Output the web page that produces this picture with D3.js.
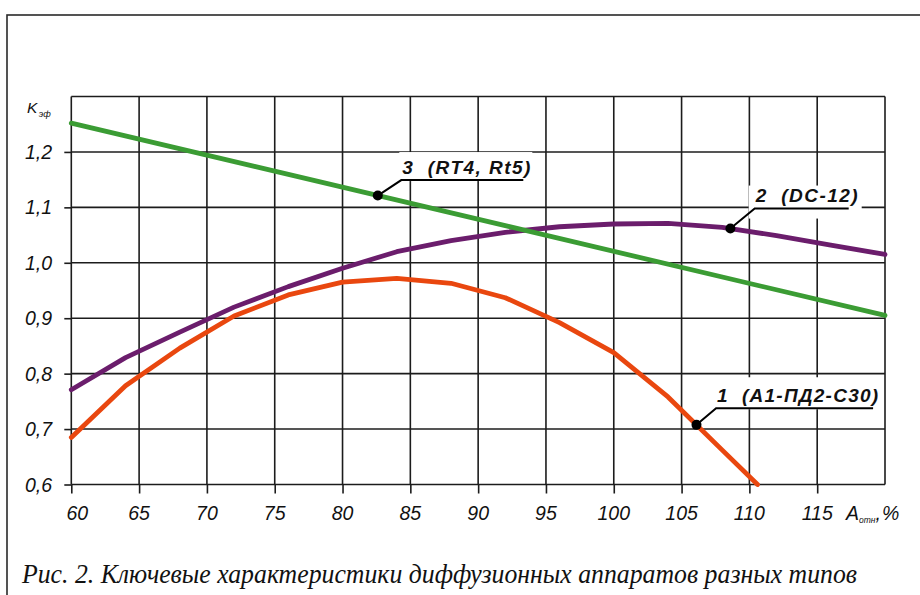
<!DOCTYPE html>
<html>
<head>
<meta charset="utf-8">
<script src="https://cdn.jsdelivr.net/npm/d3@7"></script>
<style>
  html, body { margin: 0; padding: 0; background: #fff; }
  svg { display: block; }
</style>
</head>
<body>
<svg id="chart" width="920" height="595"></svg>
<script>
// Relative load (%) on the horizontal axis, efficiency coefficient on the vertical axis
const xTicks = [60, 65, 70, 75, 80, 85, 90, 95, 100, 105, 110, 115];
const yTicks = [0.6, 0.7, 0.8, 0.9, 1.0, 1.1, 1.2];
const yTickLabels = ["0,6", "0,7", "0,8", "0,9", "1,0", "1,1", "1,2"];

// Curve 1 — А1-ПД2-С30
const series1X = [60, 64, 68, 72, 76, 80, 84, 88, 92, 96, 100, 104, 108, 110.6];
const series1Y = [0.685, 0.778, 0.846, 0.904, 0.942, 0.965, 0.972, 0.963, 0.937, 0.892, 0.838, 0.758, 0.662, 0.600];

// Curve 2 — DC-12
const series2X = [60, 64, 68, 72, 76, 80, 84, 88, 92, 96, 100, 104, 108, 112, 116, 120];
const series2Y = [0.771, 0.829, 0.875, 0.920, 0.957, 0.990, 1.020, 1.040, 1.055, 1.065, 1.070, 1.071, 1.064, 1.049, 1.032, 1.015];

// Curve 3 — RT4, Rt5
const series3X = [60, 120];
const series3Y = [1.252, 0.905];

const seriesNames = ["1  (А1-ПД2-С30)", "2  (DC-12)", "3  (RT4, Rt5)"];
// Where along each curve its callout dot sits
const calloutAt = [106.1, 108.6, 82.6];

const caption = "Рис. 2. Ключевые характеристики диффузионных аппаратов разных типов";

// ---- styling / layout ----
const colors = ["#e9470f", "#6b1d6c", "#3b9c34"];
const gridColor = "#1c1c1c";
const plot = { left: 71.3, right: 885, top: 96.5, bottom: 484.5 };
const callout = [
  { dx: 19.6, dy: -16.6, len: 157, textLen: 161, box: [-4, -31, 166, 1] },
  { dx: 24.3, dy: -20.0, len: 94,  textLen: 102, box: [-6, -23, 113, 10] },
  { dx: 23.5, dy: -15.5, len: 122, textLen: 128, box: [-2, -28, 133, 1] }
];

const svg = d3.select("#chart");

const x = d3.scaleLinear().domain([60, 120]).range([plot.left, plot.right]);
const y = d3.scaleLinear().domain([0.6, 1.3]).range([plot.bottom, plot.top]);

// outer frame
svg.append("rect")
  .attr("x", 7).attr("y", 15)
  .attr("width", 940).attr("height", 620)
  .attr("fill", "none").attr("stroke", "#2a2a2a").attr("stroke-width", 1.6);

// grid
const grid = svg.append("g").attr("stroke", gridColor).attr("stroke-width", 1.6).attr("fill", "none");
const xGrid = xTicks.concat([120]);
grid.selectAll("line.v").data(xGrid).join("line")
  .attr("class", "v")
  .attr("x1", d => x(d)).attr("x2", d => x(d))
  .attr("y1", plot.top).attr("y2", plot.bottom);
const yGrid = yTicks.concat([1.3]);
grid.selectAll("line.h").data(yGrid).join("line")
  .attr("class", "h")
  .attr("x1", plot.left).attr("x2", plot.right)
  .attr("y1", d => y(d)).attr("y2", d => y(d));

// axes: ticks sticking out of the frame
const xAxis = d3.axisBottom(x).tickValues(xTicks).tickSize(9).tickFormat("");
const gx = svg.append("g").attr("transform", `translate(0,${plot.bottom})`).call(xAxis);
gx.select(".domain").remove();
gx.selectAll(".tick line").attr("stroke", gridColor).attr("stroke-width", 1.6);

const yAxis = d3.axisLeft(y).tickValues(yTicks).tickSize(7).tickFormat("");
const gy = svg.append("g").attr("transform", `translate(${plot.left},0)`).call(yAxis);
gy.select(".domain").remove();
gy.selectAll(".tick line").attr("stroke", gridColor).attr("stroke-width", 1.6);

// tick labels
const tickFont = "'Liberation Sans', Arial, sans-serif";
svg.append("g").selectAll("text").data(xTicks).join("text")
  .attr("x", (d, i) => x(d) + (i === 0 ? 6 : 0))
  .attr("y", 520)
  .attr("text-anchor", "middle")
  .attr("font-family", tickFont).attr("font-style", "italic")
  .attr("font-size", 19.5).attr("fill", "#111")
  .text(d => d);

svg.append("g").selectAll("text").data(yTicks).join("text")
  .attr("x", 52)
  .attr("y", d => y(d) + 7)
  .attr("text-anchor", "end")
  .attr("font-family", tickFont).attr("font-style", "italic")
  .attr("font-size", 19.5).attr("fill", "#111")
  .text((d, i) => yTickLabels[i]);

// axis titles
const yTitle = svg.append("text")
  .attr("x", 27).attr("y", 113)
  .attr("font-family", tickFont).attr("font-style", "italic")
  .attr("font-size", 15.5).attr("fill", "#111");
yTitle.append("tspan").text("K");
yTitle.append("tspan").attr("font-size", 9).attr("dy", 4).attr("dx", 1.5).text("эф");

const xTitle = svg.append("text")
  .attr("x", 846).attr("y", 520)
  .attr("font-family", tickFont).attr("font-style", "italic")
  .attr("font-size", 19.5).attr("fill", "#111");
xTitle.append("tspan").text("A");
xTitle.append("tspan").attr("font-size", 8.5).attr("dy", 3).text("отн");
xTitle.append("tspan").attr("dy", -3).text(",");
xTitle.append("tspan").attr("dx", 1).text("%");

// series
const allX = [series1X, series2X, series3X];
const allY = [series1Y, series2Y, series3Y];
const line = d3.line().x(d => x(d[0])).y(d => y(d[1]));

// callout geometry derived from the curves
const marks = allX.map((xs, i) => {
  const f = d3.scaleLinear().domain(xs).range(allY[i]);
  const px = x(calloutAt[i]), py = y(f(calloutAt[i]));
  const c = callout[i];
  return { px, py, ux: px + c.dx, uy: py + c.dy, c, name: seriesNames[i] };
});

// white plates under the callout text
svg.append("g").selectAll("rect").data(marks).join("rect")
  .attr("x", d => d.ux + d.c.box[0])
  .attr("y", d => d.uy + d.c.box[1])
  .attr("width", d => d.c.box[2])
  .attr("height", d => -d.c.box[1] + d.c.box[3])
  .attr("fill", "#fff");

svg.append("g").selectAll("path").data([0, 1, 2]).join("path")
  .attr("d", i => line(allX[i].map((v, k) => [v, allY[i][k]])))
  .attr("fill", "none")
  .attr("stroke", i => colors[i])
  .attr("stroke-width", 4.8)
  .attr("stroke-linejoin", "round")
  .attr("stroke-linecap", "round");

// callouts: dot, leader, underline, text
const cg = svg.append("g");
cg.selectAll("path").data(marks).join("path")
  .attr("d", d => `M${d.px},${d.py}L${d.ux},${d.uy}H${d.ux + d.c.len}`)
  .attr("fill", "none").attr("stroke", "#000").attr("stroke-width", 2);
cg.selectAll("circle").data(marks).join("circle")
  .attr("cx", d => d.px).attr("cy", d => d.py).attr("r", 5).attr("fill", "#000");
cg.selectAll("text").data(marks).join("text")
  .attr("x", d => d.ux + 1)
  .attr("y", d => d.uy - 6.5)
  .attr("font-family", tickFont).attr("font-style", "italic").attr("font-weight", "bold")
  .attr("font-size", 19).attr("fill", "#111")
  .attr("textLength", d => d.c.textLen).attr("lengthAdjust", "spacing")
  .style("white-space", "pre")
  .text(d => d.name);

// caption
svg.append("text")
  .attr("x", 22).attr("y", 583)
  .attr("font-family", "'Liberation Serif', 'Times New Roman', serif")
  .attr("font-style", "italic")
  .attr("font-size", 27).attr("fill", "#111")
  .attr("textLength", 835).attr("lengthAdjust", "spacingAndGlyphs")
  .text(caption);
</script>
</body>
</html>
